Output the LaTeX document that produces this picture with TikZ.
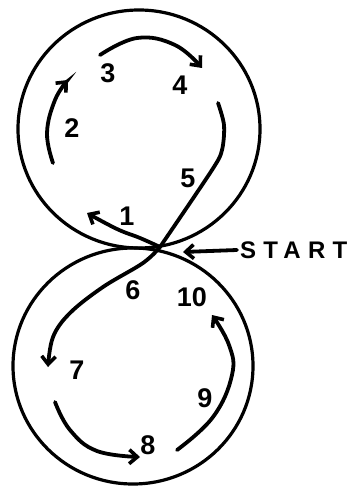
\documentclass[tikz,border=0pt]{standalone}
\usepackage{fontspec}
\setsansfont{Liberation Sans}
\newfontfamily\startfont[LetterSpace=30]{Liberation Sans}
\usetikzlibrary{arrows.meta}
\begin{document}
\begin{tikzpicture}[x=1pt,y=-1pt,
  ring/.style={line width=3.2pt},
  stroke/.style={line width=3.8pt,line cap=round},
  arr/.style={stroke,-{Straight Barb[length=8pt,width=14pt,line width=3.6pt]}},
  num/.style={font=\sffamily\bfseries\fontsize{27}{27}\selectfont,inner sep=0pt}]
\useasboundingbox (0,0) rectangle (351,487);
% circles
\draw[ring] (139,129) ellipse [x radius=121, y radius=119];
\draw[ring] (133,366) ellipse [x radius=120, y radius=118];
% path coordinates
\coordinate (x) at (160,247);
\coordinate (a1) at (87,213);
\coordinate (b2) at (53,163);
\coordinate (e2) at (68,80);
\coordinate (b3) at (100,55);
\coordinate (e3) at (202,68);
\coordinate (b4) at (218,103);
\coordinate (e7) at (48,367);
\coordinate (b8) at (55,402);
\coordinate (e8) at (140,457);
\coordinate (b9) at (177,450);
\coordinate (e10) at (212,315);
\coordinate (sa) at (237,250);
\coordinate (se) at (183,252);
% arrows
\draw[arr] plot[smooth,tension=0.7] coordinates {(x) (140,238) (117,229) (a1)};
\draw[arr] plot[smooth,tension=0.7] coordinates {(b2) (47,133) (55,100) (e2)};
\draw[arr] plot[smooth,tension=0.7] coordinates {(b3) (137,38) (175,45) (e3)};
\draw[stroke] plot[smooth,tension=0.5] coordinates {(b4) (224,125) (222,150) (212,170) (x)};
\draw[arr] plot[smooth,tension=0.6] coordinates {(x) (143,263) (103,287) (70,313) (53,337) (e7)};
\draw[arr] plot[smooth,tension=0.7] coordinates {(b8) (70,430) (97,451) (e8)};
\draw[arr] plot[smooth,tension=0.7] coordinates {(b9) (213,417) (232,375) (229,345) (e10)};
\draw[arr] (sa) -- (se);
% labels
\node[num] (n1) at (127,216) {1};
\node[num] (n2) at (72,128) {2};
\node[num] (n3) at (108,73) {3};
\node[num] (n4) at (180,85) {4};
\node[num] (n5) at (188,178) {5};
\node[num] (n6) at (133,290) {6};
\node[num] (n7) at (77,370) {7};
\node[num] (n8) at (148,445) {8};
\node[num] (n9) at (205,398) {9};
\node[num] (n10) at (192,297) {10};
\node[inner sep=0pt,anchor=west,font=\startfont\bfseries\fontsize{24}{24}\selectfont] (start) at (240,250) {START};
\end{tikzpicture}
\end{document}
